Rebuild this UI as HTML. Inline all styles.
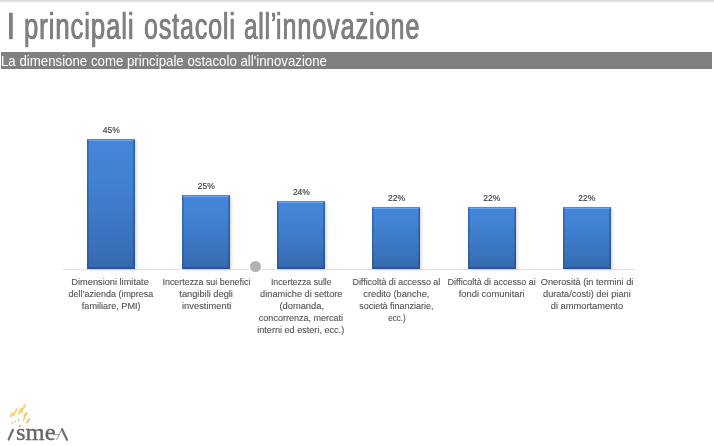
<!DOCTYPE html>
<html lang="it">
<head>
<meta charset="utf-8">
<title>I principali ostacoli all’innovazione</title>
<style>
html,body{margin:0;padding:0;background:#fff;}
body{width:714px;height:446px;position:relative;overflow:hidden;font-family:"Liberation Sans",sans-serif;}
.topstrip{position:absolute;left:0;top:0;width:714px;height:2px;background:#dddee1;}
.title{position:absolute;left:0;top:3.4px;width:714px;height:48px;line-height:48px;font-size:36.6px;color:#808080;white-space:nowrap;-webkit-text-stroke:0.3px #808080;text-shadow:0.5px 0 0 #808080,-0.5px 0 0 #808080;letter-spacing:1.3px;}
.title span{position:absolute;top:0;transform-origin:0 0;}
.subbar{position:absolute;left:1px;top:51.6px;width:710.8px;height:17.4px;background:#808080;}
.subtitle{position:absolute;left:0.9px;top:53px;height:17px;line-height:17px;font-size:14.4px;color:#fff;white-space:nowrap;transform-origin:0 0;transform:scaleX(0.921);}
.axis{position:absolute;left:63px;top:268.5px;width:572px;height:1px;background:#e2e2e2;}
.bar{position:absolute;width:48.2px;background:linear-gradient(180deg,#4586da 0,#4182d3 30%,#3b75c0 70%,#3669ad 100%);box-shadow:1.5px 1px 3px rgba(0,0,0,.16);box-sizing:border-box;}
.bar::before{content:"";position:absolute;left:0;right:0;top:0;bottom:0;box-sizing:border-box;border-top:2.4px solid rgba(105,172,248,.85);border-left:2px solid rgba(25,55,105,.22);border-right:2px solid rgba(25,55,105,.32);border-bottom:2px solid rgba(20,45,95,.3);}
.bar::after{content:"";position:absolute;left:0;right:0;top:0;bottom:0;box-sizing:border-box;border:0.6px solid rgba(40,80,140,.3);}
.val{position:absolute;width:60px;text-align:center;font-size:8.5px;line-height:10px;color:#404040;-webkit-text-stroke:0.15px #404040;}
.lab{position:absolute;width:100px;text-align:center;font-size:9px;line-height:12px;color:#555;-webkit-text-stroke:0.12px #555;top:276.4px;white-space:nowrap;}
.lab span{display:inline-block;transform-origin:50% 50%;}
.dot{position:absolute;left:250.3px;top:261px;width:11px;height:11px;border-radius:50%;background:#b2b2b2;}
</style>
</head>
<body>
<div class="topstrip"></div>
<div class="title"><span style="left:6.70px;transform:scaleX(0.7600)">I</span> <span style="left:24.25px;transform:scaleX(0.7023)">principali</span> <span style="left:144.06px;transform:scaleX(0.6832)">ostacoli</span> <span style="left:243.77px;transform:scaleX(0.6624)">all’</span><span style="left:276.07px;transform:scaleX(0.6887)">innovazione</span></div>
<div class="subbar"></div>
<div class="subtitle">La dimensione come principale ostacolo all'innovazione</div>

<div class="axis"></div>
<div class="bar" style="left:87px;top:138.8px;height:130px"></div>
<div class="bar" style="left:182.1px;top:195.2px;height:73.6px"></div>
<div class="bar" style="left:277.2px;top:200.8px;height:68px"></div>
<div class="bar" style="left:372.3px;top:206.8px;height:62px"></div>
<div class="bar" style="left:467.5px;top:206.8px;height:62px"></div>
<div class="bar" style="left:562.6px;top:206.8px;height:62px"></div>

<div class="val" style="left:81.2px;top:124.6px">45%</div>
<div class="val" style="left:176.3px;top:181.4px">25%</div>
<div class="val" style="left:271.4px;top:186.8px">24%</div>
<div class="val" style="left:366.5px;top:192.6px">22%</div>
<div class="val" style="left:461.7px;top:192.6px">22%</div>
<div class="val" style="left:556.8px;top:192.6px">22%</div>

<div class="lab" style="left:61.2px"><span style="transform:translateX(-0.7px) scaleX(1.025)">Dimensioni limitate</span><br><span style="transform:translateX(-0.6px) scaleX(0.996)">dell’azienda (impresa</span><br><span style="transform:translateX(0.2px) scaleX(1.014)">familiare, PMI)</span></div>
<div class="lab" style="left:156.3px"><span style="transform:translateX(-0.1px) scaleX(0.987)">Incertezza sui benefici</span><br><span style="transform:translateX(0.1px) scaleX(1.030)">tangibili degli</span><br><span style="transform:translateX(-0.1px) scaleX(1.037)">investimenti</span></div>
<div class="lab" style="left:251.4px"><span style="transform:translateX(-0.0px) scaleX(0.971)">Incertezza sulle</span><br><span style="transform:translateX(-0.0px) scaleX(1.022)">dinamiche di settore</span><br><span style="transform:translateX(0.2px) scaleX(1.037)">(domanda,</span><br><span style="transform:translateX(-0.1px) scaleX(1.001)">concorrenza, mercati</span><br><span style="transform:translateX(-0.3px) scaleX(1.010)">interni ed esteri, ecc.)</span></div>
<div class="lab" style="left:346.5px"><span style="transform:translateX(-0.1px) scaleX(0.987)">Difficoltà di accesso al</span><br><span style="transform:translateX(0.1px) scaleX(1.024)">credito (banche,</span><br><span style="transform:translateX(0.1px) scaleX(0.999)">società finanziarie,</span><br><span style="transform:translateX(0.2px) scaleX(0.902)">ecc.)</span></div>
<div class="lab" style="left:441.7px"><span style="transform:translateX(0.2px) scaleX(0.992)">Difficoltà di accesso ai</span><br><span style="transform:translateX(-0.1px) scaleX(1.037)">fondi comunitari</span></div>
<div class="lab" style="left:536.8px"><span style="transform:translateX(-0.2px) scaleX(1.022)">Onerosità (in termini di</span><br><span style="transform:translateX(0.1px) scaleX(1.025)">durata/costi) dei piani</span><br><span style="transform:translateX(-0.1px) scaleX(1.034)">di ammortamento</span></div>

<div class="dot"></div>

<svg class="logo" width="80" height="50" viewBox="0 396 80 50" style="position:absolute;left:0;top:396px;overflow:visible" role="img" aria-label="ismea">
  <g stroke-linecap="round" fill="none" opacity="0.85">
    <line x1="10.8" y1="416.4" x2="12.4" y2="413" stroke="#f2c550" stroke-width="1.8"/>
    <line x1="13.6" y1="415.4" x2="16.6" y2="409.2" stroke="#f4cc5c" stroke-width="2"/>
    <line x1="18.6" y1="413.6" x2="21.4" y2="408.6" stroke="#f3c451" stroke-width="1.9"/>
    <line x1="21" y1="412.4" x2="25.2" y2="405" stroke="#f5cf62" stroke-width="2.2"/>
    <line x1="24.3" y1="416.4" x2="26.7" y2="413" stroke="#eeb244" stroke-width="2"/>
    <line x1="27" y1="422.6" x2="29.2" y2="419.2" stroke="#efb84a" stroke-width="1.9"/>
    <line x1="23.6" y1="419.6" x2="24.6" y2="418" stroke="#f0c050" stroke-width="1.6"/>
  </g>
  <circle cx="12.3" cy="422.8" r="0.9" fill="#e9c36a"/>
  <circle cx="15" cy="421.4" r="0.8" fill="#c9c070"/>
  <circle cx="18.6" cy="420" r="0.9" fill="#d8c060"/>
  <circle cx="19.7" cy="426" r="1.1" fill="#ee9a4a"/>
  <line x1="8.6" y1="439.6" x2="12.9" y2="429.8" stroke="#6e6e6e" stroke-width="2.2" stroke-linecap="round"/>
  <text x="16" y="440" font-family="'Liberation Serif',serif" font-size="22.6" fill="#666" stroke="#666" stroke-width="0.35" textLength="39.6" lengthAdjust="spacingAndGlyphs">sme</text>
  <line x1="53" y1="434.7" x2="59.5" y2="434.7" stroke="#6e6e6e" stroke-width="0.7"/>
  <line x1="56.6" y1="440" x2="62" y2="428.8" stroke="#6e6e6e" stroke-width="0.8"/>
  <line x1="62" y1="429.2" x2="67" y2="439.8" stroke="#6e6e6e" stroke-width="2.2" stroke-linecap="round"/>
</svg>
</body>
</html>
